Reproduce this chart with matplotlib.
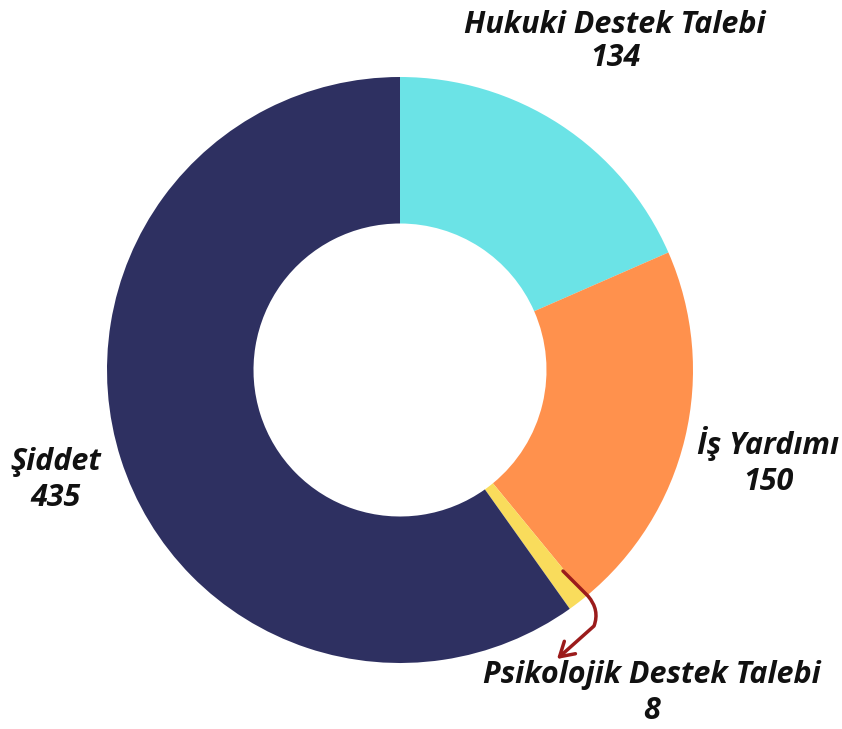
import matplotlib.pyplot as plt
import matplotlib.patches as patches
from matplotlib.path import Path

# data
categories = ['Hukuki Destek Talebi', 'İş Yardımı', 'Psikolojik Destek Talebi', 'Şiddet']
values = [134, 150, 8, 435]
colors = ['#6BE3E6', '#FF914D', '#F9DC5C', '#2E3061']

W, H = 842, 729
fig = plt.figure(figsize=(W / 100, H / 100), dpi=100)
ax = fig.add_axes([0, 0, 1, 1])

cx, cy, r = 400, H - 370, 293
ax.pie(values, colors=colors, startangle=90, counterclock=False,
       center=(cx, cy), radius=r, frame=True,
       wedgeprops=dict(width=r * 0.5, linewidth=0))
ax.set_xlim(0, W)
ax.set_ylim(0, H)
ax.set_aspect('equal')
ax.axis('off')

font = dict(family='Open Sans', fontweight='bold', style='italic',
            fontsize=22, color='#111111', ha='center', va='center')

# label positions in pixel coords: (x, name y, value y) measured from top
label_pos = [(615, 25, 58), (768, 443, 482), (652, 675, 711), (56, 462, 498)]
for name, val, (px, py, vy) in zip(categories, values, label_pos):
    ax.text(px, H - py, name, **font)
    ax.text(px, H - vy, str(val), **font)

# arrow pointing from the small slice to its label
verts = [(563, H - 571), (588, H - 596), (600, H - 610), (594, H - 626), (557, H - 659)]
codes = [Path.MOVETO, Path.LINETO, Path.CURVE3, Path.CURVE3, Path.LINETO]
arrow = patches.FancyArrowPatch(path=Path(verts, codes), arrowstyle='->,head_length=10,head_width=6',
                                color='#9B1B1B', linewidth=2.5)
ax.add_patch(arrow)

fig.savefig('out.png', dpi=100, facecolor='white')
